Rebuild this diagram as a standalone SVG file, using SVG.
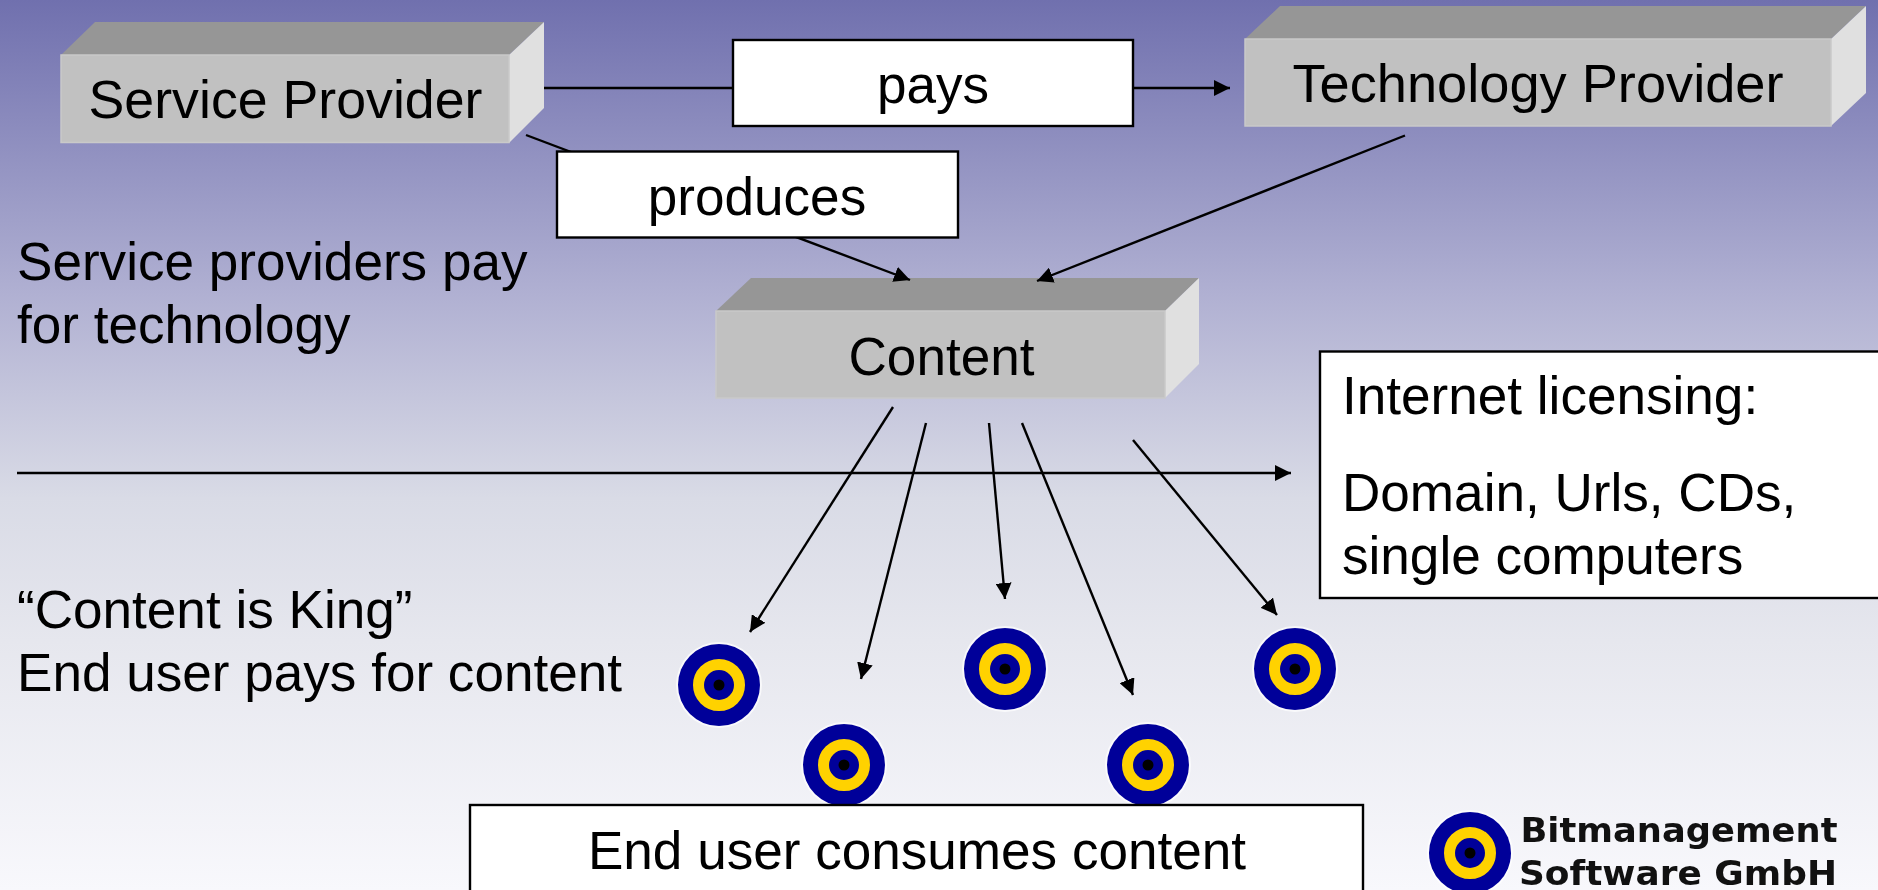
<svg xmlns="http://www.w3.org/2000/svg" width="1878" height="890" viewBox="0 0 1878 890">
<style>
text{font-family:"Liberation Sans",Arial,sans-serif;font-size:53.100px;fill:#000}
.m{text-anchor:middle}
.front{fill:#c1c1c1;stroke:#c9c9c9;stroke-width:1.500}
.top{fill:#969696}
.side{fill:#e0e0e0}
.label{fill:#fff;stroke:#000;stroke-width:2.400}
.c{fill:none;stroke:#000;stroke-width:2.400}
.a{marker-end:url(#arrow)}
.logo{font-family:"DejaVu Sans",Verdana,sans-serif;font-weight:700;font-size:33px;fill:#111}
.soft{filter:url(#soft)}
</style>
<defs>
<linearGradient id="bg" x1="0" y1="0" x2="0" y2="1">
<stop offset="0" stop-color="#7070ae"/>
<stop offset=".33" stop-color="#b0b0d2"/>
<stop offset=".56" stop-color="#d9dbe6"/>
<stop offset=".72" stop-color="#e6e7ee"/>
<stop offset="1" stop-color="#f8f8fc"/>
</linearGradient>
<filter id="soft" x="-10%" y="-10%" width="120%" height="120%"><feGaussianBlur stdDeviation=".7"/></filter>
<marker id="arrow" markerUnits="userSpaceOnUse" markerWidth="18" markerHeight="16" refX="16" refY="8" orient="auto">
<path d="M0 0L16 8L0 16z" fill="#000"/>
</marker>
<g id="eye">
<circle r="43" fill="#fff" opacity=".7"/>
<circle r="41" fill="#000099"/>
<circle r="20.500" fill="none" stroke="#ffd200" stroke-width="11"/>
<circle r="5.500" fill="#000"/>
</g>
</defs>
<rect width="1878" height="890" fill="url(#bg)"/>
<g id="service-provider">
<path class="top" d="M61 55L95 22H544L509 55z"/>
<path class="side" d="M509 55L544 22V108L509 143z"/>
<rect class="front" x="61" y="55" width="448" height="87.500"/>
<text class="m" x="285.500" y="118" style="font-size:53.700px">Service Provider</text>
</g>
<g id="technology-provider">
<path class="top" d="M1245 39L1280 6H1866L1831 39z"/>
<path class="side" d="M1831 39L1866 6V93L1831 126z"/>
<rect class="front" x="1245" y="39" width="586" height="87"/>
<text class="m" x="1538" y="102" style="font-size:54.200px">Technology Provider</text>
</g>
<g id="content">
<path class="top" d="M716 311L751 278H1199L1165 311z"/>
<path class="side" d="M1165 311L1199 278V364L1165 398z"/>
<rect class="front" x="716" y="311" width="449" height="87"/>
<text class="m" x="941.500" y="375">Content</text>
</g>
<g id="connectors">
<path class="c a" d="M544 88H1230"/>
<path class="c a" d="M526 135L910 280"/>
<path class="c a" d="M1405 135.500L1037 281"/>
<path class="c a" d="M17 473H1291"/>
<path class="c a" d="M893 407L750 632"/>
<path class="c a" d="M926 423L861 679"/>
<path class="c a" d="M989 423L1005 599"/>
<path class="c a" d="M1022 423L1133 695"/>
<path class="c a" d="M1133 440L1277 615"/>
</g>
<g id="pays">
<rect class="label" x="733" y="40" width="400" height="86"/>
<text class="m" x="933" y="103">pays</text>
</g>
<g id="produces">
<rect class="label" x="557" y="151.500" width="401" height="86"/>
<text class="m" x="757" y="215">produces</text>
</g>
<g id="note-technology">
<text x="17" y="280">Service providers pay</text>
<text x="17" y="343">for technology</text>
</g>
<g id="note-content">
<text x="17" y="628">“Content is King”</text>
<text x="17" y="691">End user pays for content</text>
</g>
<g id="end-users" class="soft">
<use href="#eye" x="719" y="685"/>
<use href="#eye" x="844" y="765"/>
<use href="#eye" x="1005" y="669"/>
<use href="#eye" x="1148" y="765"/>
<use href="#eye" x="1295" y="669"/>
</g>
<g id="internet-licensing">
<rect class="label" x="1320" y="351.500" width="570" height="246.500"/>
<text x="1342" y="414">Internet licensing:</text>
<text x="1342" y="511">Domain, Urls, CDs,</text>
<text x="1342" y="574">single computers</text>
</g>
<g id="end-user-consumes">
<rect class="label" x="470" y="805" width="893" height="100"/>
<text class="m" x="917" y="869">End user consumes content</text>
</g>
<g id="logo">
<use href="#eye" x="1470" y="853" class="soft"/>
<text class="logo" x="1520.500" y="842" textLength="317" lengthAdjust="spacingAndGlyphs">Bitmanagement</text>
<text class="logo" x="1519" y="885" textLength="318" lengthAdjust="spacingAndGlyphs">Software GmbH</text>
</g>
</svg>
